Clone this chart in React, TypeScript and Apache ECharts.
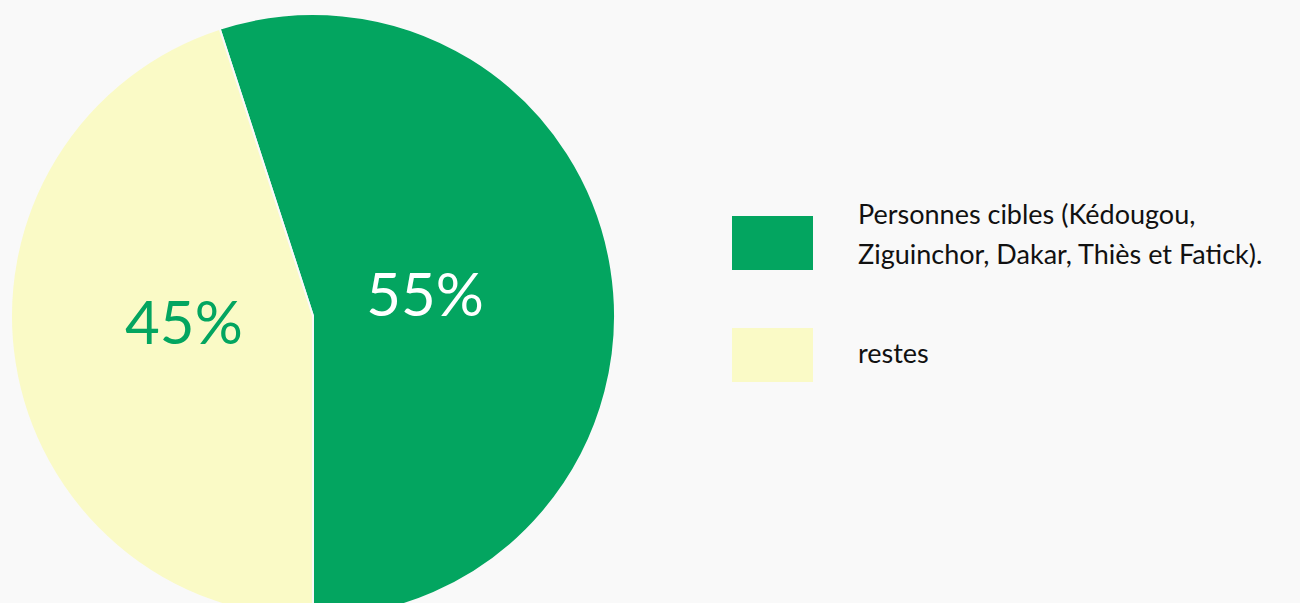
import React, { useEffect, useRef } from "react";
import * as echarts from "echarts";

const categories = [
  "Personnes cibles (Kédougou,\nZiguinchor, Dakar, Thiès et Fatick).",
  "restes",
];
const values = [55, 45];
const sliceColors = ["#03A560", "#FAFAC6"];
const labelColors = ["#FFFFFF", "#03A560"];
const labelOffsets = [
  [-40, 1],
  [23, -19],
];

export default function App() {
  const ref = useRef<HTMLDivElement>(null);
  useEffect(() => {
    if (!ref.current) return;
    const chart = echarts.init(ref.current, undefined, { renderer: "svg" });
    const legendRows = [
      { rectY: 216, textY: 193, align: "top" },
      { rectY: 328, textY: 352, align: "middle" },
    ];
    const legendGraphics: any[] = [];
    categories.forEach((c, i) => {
      legendGraphics.push({
        type: "rect",
        left: 732,
        top: legendRows[i].rectY,
        shape: { width: 81, height: 54 },
        style: { fill: sliceColors[i] },
        silent: true,
      });
      legendGraphics.push({
        type: "text",
        x: 858,
        y: legendRows[i].textY,
        style: {
          text: c,
          fontFamily: "Lato",
          fontSize: 27,
          lineHeight: 40,
          fill: "#111111",
          align: "left",
          verticalAlign: legendRows[i].align,
        },
        silent: true,
      });
    });
    chart.setOption({
      animation: false,
      backgroundColor: "#F9F9F9",
      graphic: legendGraphics,
      series: [
        {
          type: "pie",
          center: [313, 316],
          radius: [0, 302],
          startAngle: 108,
          clockwise: true,
          silent: true,
          itemStyle: { borderColor: "#F9F9F9", borderWidth: 2 },
          labelLine: { show: false },
          data: categories.map((c, i) => ({
            name: c,
            value: values[i],
            itemStyle: { color: sliceColors[i] },
            label: {
              show: true,
              position: "inside",
              formatter: "{d}%",
              color: labelColors[i],
              fontFamily: "Lato",
              fontSize: 60,
              offset: labelOffsets[i],
            },
          })),
        },
      ],
    });
    return () => chart.dispose();
  }, []);
  return (
    <div
      ref={ref}
      style={{ position: "fixed", left: 0, top: 0, width: 1300, height: 603 }}
    />
  );
}
